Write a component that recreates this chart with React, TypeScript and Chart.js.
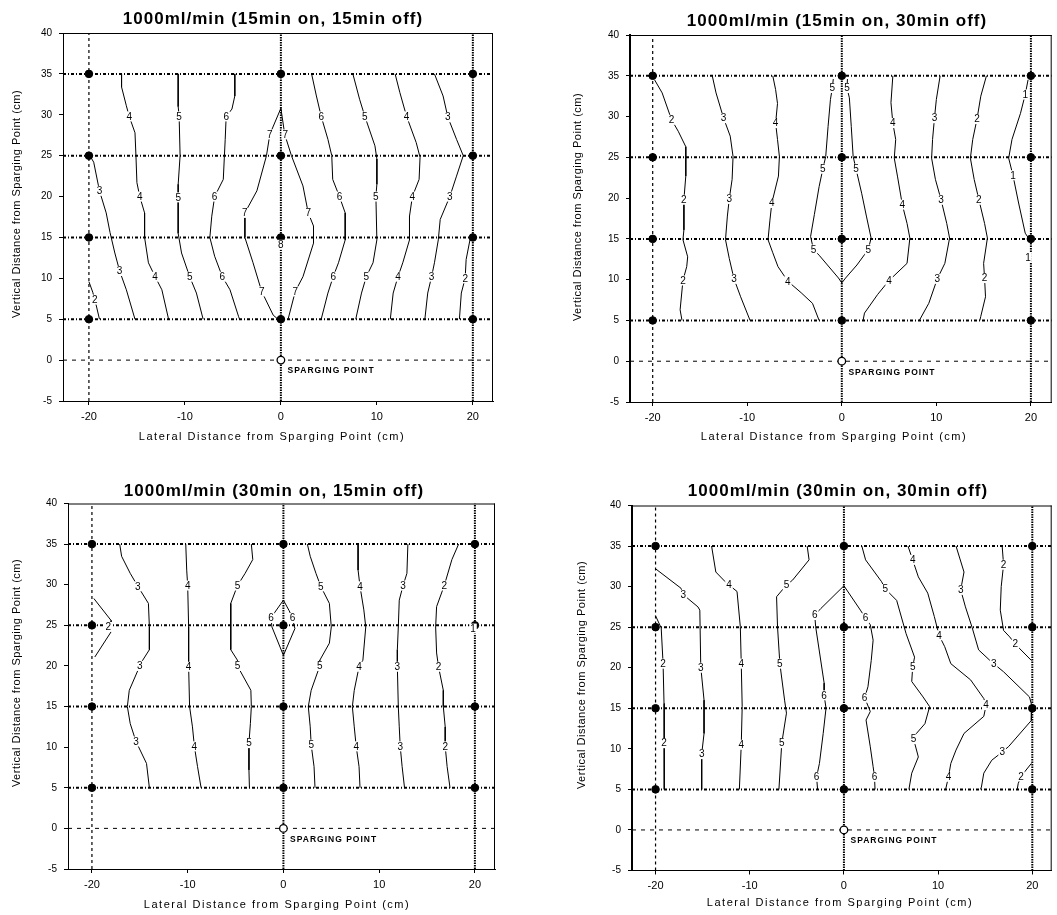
import React, { useEffect, useRef } from "react";
import { Chart, registerables } from "chart.js";

Chart.register(...registerables);
Chart.defaults.font.family = '"Liberation Sans", Arial, sans-serif';
Chart.defaults.color = "#000";

type Pt = [number, number];
type Lab = [number, number, string];

// ---------- shared axis / reference data ----------
const X_TICKS = [-20, -10, 0, 10, 20];
const Y_TICKS = [-5, 0, 5, 10, 15, 20, 25, 30, 35, 40];
const Y_MIN = -5;
const Y_MAX = 40;
const SAMPLE_X = [-20, 0, 20];
const SAMPLE_Y = [5, 15, 25, 35];
const SPARGE_PT: Pt = [0, 0];
const SPARGE_TEXT = "SPARGING POINT";
const SPARGE_TEXT_AT: Pt = [0.7, -1.35];
const ROW_LINES = [5, 15, 25, 35];
const BASE_ROW = [0];
const DASHED_COLS = [-20];
const DOTTED_COLS = [0, 20];
const X_TITLE = "Lateral Distance from Sparging Point (cm)";
const Y_TITLE = "Vertical Distance from Sparging Point (cm)";
const TITLES = [
  "1000ml/min (15min on, 15min off)",
  "1000ml/min (15min on, 30min off)",
  "1000ml/min (30min on, 15min off)",
  "1000ml/min (30min on, 30min off)",
];

// ---------- panel 1: 15 min on, 15 min off ----------
const P1_C2: Pt[] = [[-20, 9.6], [-19.6, 8.3], [-19.3, 7.0], [-18.9, 5]];
const P1_C3L: Pt[] = [[-20.1, 25.4], [-19.5, 24.2], [-18.9, 20.7], [-18.2, 18], [-17.8, 15.6], [-17.3, 13.1], [-16.8, 10.9], [-16.1, 8.6], [-15.2, 5]];
const P1_C4L: Pt[] = [[-16.6, 35], [-16.6, 33.4], [-16.1, 31.1], [-15.8, 29.8], [-15.2, 27.8], [-15.1, 25], [-15.0, 21.7], [-14.7, 20], [-14.2, 18], [-14.2, 15], [-13.8, 11.9], [-13.1, 10.2], [-12.4, 8.6], [-11.7, 5]];
const P1_C5L: Pt[] = [[-10.7, 35], [-10.7, 31], [-10.6, 29.8], [-10.5, 25], [-10.7, 21.5], [-10.7, 19.9], [-10.7, 15.5], [-10.35, 13.1], [-9.5, 10.2], [-8.8, 8.2], [-8.1, 5]];
const P1_C6L: Pt[] = [[-4.8, 35], [-4.8, 32.3], [-5.1, 30.7], [-5.7, 29.8], [-5.8, 27], [-5.9, 24.6], [-6.0, 22.1], [-6.9, 20], [-7.2, 17.6], [-7.4, 15], [-6.9, 12.7], [-6.1, 10.2], [-5.3, 8.6], [-4.4, 5.3], [-4.3, 5]];
const P1_C7L: Pt[] = [[0, 30.8], [-1.15, 27.6], [-1.5, 25], [-2.5, 20.7], [-3.75, 18], [-3.75, 15], [-2.9, 11.9], [-2.0, 8.4], [-0.8, 5.5], [-0.3, 5]];
const P1_C7R: Pt[] = [[0, 30.8], [0.4, 27.6], [1.1, 25], [2.3, 21.3], [2.85, 18], [3.4, 16.4], [3.4, 14.3], [2.3, 10.2], [1.5, 8.4], [0.75, 5]];
const P1_C6R: Pt[] = [[3.2, 35], [3.7, 32.3], [4.2, 29.8], [4.9, 27], [5.3, 25], [5.4, 22.1], [6.1, 20], [6.7, 18], [6.7, 14.7], [6.0, 11.9], [5.45, 10.2], [4.9, 8.2], [4.2, 5]];
const P1_C5R: Pt[] = [[7.5, 35], [8.2, 31.9], [8.75, 29.8], [9.8, 26.2], [10.0, 24.6], [10.0, 21.5], [9.9, 20], [10.0, 14.7], [9.6, 11.9], [8.9, 10.2], [8.4, 8.2], [7.8, 5]];
const P1_C4R: Pt[] = [[11.9, 35], [12.4, 32.7], [13.1, 29.8], [14.1, 26.6], [14.5, 24.8], [14.4, 22.1], [13.7, 20], [13.4, 17.6], [13.4, 14.7], [12.7, 11.9], [12.2, 10.2], [11.7, 8.2], [11.4, 5]];
const P1_C3R: Pt[] = [[16.0, 35], [16.9, 32.3], [17.4, 29.7], [18.3, 27], [19.0, 25], [18.3, 22.5], [17.6, 20], [16.6, 17.2], [16.4, 14.7], [16.0, 11.9], [15.7, 10.2], [15.3, 8.2], [15.0, 5]];
const P1_C2R: Pt[] = [[19.7, 14.7], [19.3, 12.3], [19.2, 10.0], [18.8, 8.2], [18.6, 5]];
const P1_LABELS: Lab[] = [
  [-19.4, 7.4, "2"],
  [-18.9, 20.7, "3"], [-16.8, 10.9, "3"],
  [-15.8, 29.8, "4"], [-14.7, 20, "4"], [-13.1, 10.2, "4"],
  [-10.6, 29.8, "5"], [-10.7, 19.9, "5"], [-9.5, 10.2, "5"],
  [-5.7, 29.8, "6"], [-6.9, 20, "6"], [-6.1, 10.2, "6"],
  [-1.15, 27.6, "7"], [0.45, 27.6, "7"], [-3.75, 18, "7"], [2.85, 18, "7"], [-2.0, 8.4, "7"], [1.5, 8.4, "7"],
  [0, 14.1, "8"],
  [4.2, 29.8, "6"], [6.1, 20, "6"], [5.45, 10.2, "6"],
  [8.75, 29.8, "5"], [9.9, 20, "5"], [8.9, 10.2, "5"],
  [13.1, 29.8, "4"], [13.7, 20, "4"], [12.2, 10.2, "4"],
  [17.4, 29.7, "3"], [17.6, 20, "3"], [15.7, 10.2, "3"],
  [19.2, 10.0, "2"],
];

// ---------- panel 2: 15 min on, 30 min off ----------
const P2_C2L: Pt[] = [[-19.8, 34.5], [-19.0, 32.9], [-18.0, 29.6], [-17.3, 28.2], [-16.5, 26.3], [-16.5, 22.7], [-16.7, 19.8], [-16.7, 16.1], [-16.8, 14.9], [-16.3, 12.8], [-16.4, 11.6], [-16.8, 9.9], [-17.1, 6.3], [-16.9, 5]];
const P2_C3L: Pt[] = [[-13.7, 35], [-13.3, 32.9], [-12.5, 29.8], [-11.8, 27.6], [-11.5, 25.1], [-11.6, 22.3], [-11.9, 19.9], [-12.1, 17.8], [-12.3, 14.9], [-11.9, 12.6], [-11.4, 10.1], [-10.7, 7.9], [-9.7, 5]];
const P2_C4L: Pt[] = [[-7.3, 35], [-7.0, 33.3], [-6.8, 31.6], [-7.0, 29.2], [-6.8, 27.2], [-6.6, 25.1], [-6.7, 22.7], [-7.4, 19.4], [-7.6, 17.3], [-7.8, 14.9], [-7.3, 13.3], [-6.75, 11.6], [-5.7, 9.8], [-4.3, 8.4], [-3.1, 7.1], [-2.4, 5]];
const P2_C5: Pt[] = [[-0.9, 34.6], [-1.0, 33.5], [-1.2, 32.1], [-1.45, 28.8], [-1.7, 25.1], [-2.0, 23.6], [-2.4, 21.4], [-2.9, 18.0], [-3.3, 15.3], [-3.0, 13.7], [-2.4, 13.0], [-0.35, 10.2], [0, 9.6], [0.4, 10.2], [1.6, 11.8], [2.8, 13.7], [3.1, 15.1], [2.6, 17.8], [2.1, 20.6], [1.5, 23.6], [1.2, 25.1], [1.0, 28.8], [0.8, 32.3], [0.55, 33.5], [0.6, 34.6]];
const P2_C4R: Pt[] = [[5.4, 35], [5.2, 31.7], [5.4, 29.2], [5.7, 27.2], [5.55, 24.9], [5.9, 22.6], [6.4, 19.2], [6.9, 16.9], [7.2, 15.1], [6.9, 12.0], [5.0, 9.9], [3.8, 8.2], [2.4, 5.9], [2.25, 5]];
const P2_C3R: Pt[] = [[10.4, 35], [10.0, 32.1], [9.8, 29.8], [9.6, 27.2], [9.5, 24.9], [9.9, 22.3], [10.5, 19.8], [11.1, 16.9], [11.4, 15.1], [10.9, 12.0], [10.1, 10.1], [9.2, 7.1], [8.2, 5]];
const P2_C2R: Pt[] = [[15.3, 35], [14.7, 32.5], [14.3, 29.7], [13.85, 27.2], [13.6, 24.9], [14.0, 22.3], [14.5, 19.8], [15.1, 16.9], [15.4, 15.1], [15.0, 12.0], [15.1, 10.2], [15.2, 7.9], [14.7, 5.5], [14.6, 5]];
const P2_C1R: Pt[] = [[19.7, 34.5], [19.4, 32.7], [18.9, 30.4], [18.0, 27.2], [17.65, 24.9], [18.1, 22.8], [18.7, 19.4], [19.4, 15.7], [19.8, 15]];
const P2_LABELS: Lab[] = [
  [-18.0, 29.6, "2"], [-16.7, 19.8, "2"], [-16.8, 9.9, "2"],
  [-12.5, 29.8, "3"], [-11.9, 19.9, "3"], [-11.4, 10.1, "3"],
  [-7.0, 29.2, "4"], [-7.4, 19.4, "4"], [-5.7, 9.8, "4"],
  [-1.0, 33.5, "5"], [0.55, 33.5, "5"], [-2.0, 23.6, "5"], [1.5, 23.6, "5"], [-3.0, 13.7, "5"], [2.8, 13.7, "5"],
  [5.4, 29.2, "4"], [6.4, 19.2, "4"], [5.0, 9.9, "4"],
  [9.8, 29.8, "3"], [10.5, 19.8, "3"], [10.1, 10.1, "3"],
  [14.3, 29.7, "2"], [14.5, 19.8, "2"], [15.1, 10.2, "2"],
  [19.4, 32.7, "1"], [18.1, 22.8, "1"], [19.7, 12.7, "1"],
];

// ---------- panel 3: 30 min on, 15 min off ----------
const P3_C2L: Pt[] = [[-19.8, 28.3], [-18.0, 25.6], [-18.0, 24.2], [-19.7, 21.1]];
const P3_C3L: Pt[] = [[-17.1, 35], [-16.9, 33.5], [-16.0, 31.4], [-15.2, 29.8], [-14.1, 27.7], [-14.0, 24.8], [-14.0, 22.0], [-14.7, 20.7], [-15.0, 20], [-16.1, 17], [-16.3, 15], [-16.0, 12.9], [-15.4, 10.7], [-14.3, 8.0], [-14.0, 5]];
const P3_C4L: Pt[] = [[-10.2, 35], [-10.1, 31.8], [-10.0, 29.9], [-9.9, 24.8], [-9.9, 19.9], [-9.8, 15], [-9.5, 12.5], [-9.3, 10.1], [-8.97, 7.6], [-8.6, 5]];
const P3_C5L: Pt[] = [[-3.35, 35], [-3.2, 33.1], [-4.0, 31.4], [-4.8, 29.9], [-5.5, 27.7], [-5.5, 24.8], [-5.5, 22.0], [-4.8, 20.7], [-4.8, 20], [-3.4, 17], [-3.35, 15], [-3.45, 12.9], [-3.6, 10.5], [-3.6, 7.2], [-3.55, 5]];
const P3_C6: Pt[] = [[0, 28.1], [-0.9, 26.6], [-1.3, 25.9], [-1.2, 24.8], [0, 21.3], [1.2, 24.6], [0.95, 25.9], [0.6, 26.8], [0, 28.1]];
const P3_C5R: Pt[] = [[2.5, 35], [2.8, 33.5], [3.4, 31.4], [3.9, 29.8], [4.8, 27.7], [5.0, 24.8], [4.8, 22.8], [3.8, 20.7], [3.8, 20], [2.9, 17], [2.6, 15], [2.8, 12.5], [2.9, 10.3], [3.2, 7.6], [3.3, 5]];
const P3_C4R: Pt[] = [[7.8, 35], [7.8, 31.8], [8.0, 29.8], [8.4, 26.9], [8.6, 24.8], [8.3, 20.7], [7.9, 19.9], [7.4, 17], [7.2, 15], [7.4, 12.5], [7.6, 10.1], [7.9, 7.6], [8.0, 5]];
const P3_C3R: Pt[] = [[13.0, 35], [12.9, 31.4], [12.5, 29.9], [12.1, 28.1], [12.0, 24.8], [11.9, 22.0], [11.9, 19.9], [12.0, 15], [12.1, 12.5], [12.2, 10.1], [12.4, 7.6], [12.65, 5]];
const P3_C2R: Pt[] = [[18.3, 35], [17.6, 33.1], [16.8, 29.9], [16.0, 27.3], [15.9, 24.8], [16.0, 21.6], [16.2, 19.9], [16.7, 17], [16.7, 15], [16.9, 12.5], [16.9, 10.1], [17.1, 7.6], [17.4, 5]];
const P3_LABELS: Lab[] = [
  [-18.3, 24.8, "2"],
  [-15.2, 29.8, "3"], [-15.0, 20, "3"], [-15.4, 10.7, "3"],
  [-10.0, 29.9, "4"], [-9.9, 19.9, "4"], [-9.3, 10.1, "4"],
  [-4.8, 29.9, "5"], [-4.8, 20, "5"], [-3.6, 10.5, "5"],
  [-1.3, 25.9, "6"], [0.95, 25.9, "6"],
  [3.9, 29.8, "5"], [3.8, 20, "5"], [2.9, 10.3, "5"],
  [8.0, 29.8, "4"], [7.9, 19.9, "4"], [7.6, 10.1, "4"],
  [12.5, 29.9, "3"], [11.9, 19.9, "3"], [12.2, 10.1, "3"],
  [16.8, 29.9, "2"], [16.2, 19.9, "2"], [16.9, 10.1, "2"],
  [19.8, 24.6, "1"],
];

// ---------- panel 4: 30 min on, 30 min off ----------
const P4_C2L: Pt[] = [[-20, 26.4], [-19.4, 24.9], [-19.2, 20.5], [-19.1, 15.6], [-19.1, 10.7], [-19.05, 5]];
const P4_C3L: Pt[] = [[-20, 32.2], [-17.3, 29.8], [-17.05, 29.0], [-15.5, 27.5], [-15.3, 27.1], [-15.2, 20.1], [-14.85, 16.0], [-14.85, 11.9], [-15.1, 9.35], [-15.1, 5]];
const P4_C4L: Pt[] = [[-14.05, 35], [-13.6, 31.8], [-12.6, 30.6], [-12.2, 30.2], [-11.35, 29.4], [-11.0, 25.05], [-10.9, 20.5], [-10.8, 15.2], [-10.9, 10.5], [-11.1, 5]];
const P4_C5L: Pt[] = [[-3.9, 35], [-3.7, 33.3], [-5.45, 30.8], [-6.1, 30.2], [-7.15, 28.75], [-7.05, 25.05], [-6.8, 20.5], [-6.3, 16.0], [-6.1, 14.4], [-6.6, 10.7], [-6.9, 5]];
const P4_C6L: Pt[] = [[0, 30.1], [-2.45, 27.3], [-3.1, 26.5], [-3.0, 25.05], [-2.1, 18.1], [-2.1, 16.6], [-1.9, 15.0], [-2.2, 11.9], [-2.6, 8.2], [-2.9, 6.55], [-2.8, 5]];
const P4_C6R: Pt[] = [[0, 30.1], [1.75, 27.1], [2.3, 26.1], [2.8, 25.3], [3.1, 23.4], [2.9, 20.9], [2.55, 17.65], [2.2, 16.3], [2.8, 14.6], [2.35, 13.55], [2.8, 10.25], [3.1, 7.8], [3.25, 6.55], [3.3, 5]];
const P4_C5R: Pt[] = [[1.9, 35], [2.3, 33.3], [4.0, 30.6], [4.4, 29.7], [5.6, 28.3], [6.6, 24.2], [7.5, 21.3], [7.3, 20.1], [7.2, 18.3], [8.4, 16.4], [9.1, 15.2], [8.6, 13.1], [7.7, 11.9], [7.4, 11.2], [7.9, 9.0], [7.2, 7.0], [6.9, 5]];
const P4_C4R: Pt[] = [[6.8, 35], [7.3, 33.3], [7.9, 31.2], [8.9, 29.2], [9.6, 26.3], [10.1, 24.0], [10.7, 22.6], [11.35, 20.5], [13.45, 18.5], [14.85, 16.2], [15.1, 15.4], [14.85, 14.0], [12.75, 11.9], [11.9, 9.85], [11.35, 8.2], [11.1, 6.55], [10.8, 5]];
const P4_C3R: Pt[] = [[11.9, 35], [12.75, 31.8], [12.4, 29.6], [12.9, 27.5], [13.6, 25.0], [14.3, 22.2], [15.5, 20.9], [15.9, 20.5], [16.95, 19.5], [19.7, 16.4], [19.95, 15.3], [19.9, 13.5], [17.5, 10.3], [16.8, 9.6], [15.7, 8.6], [14.85, 7.0], [14.6, 5.3], [14.5, 5]];
const P4_C2R_TOP: Pt[] = [[16.8, 35], [16.95, 32.7], [16.7, 30.0], [16.6, 27.1], [16.95, 24.6], [17.6, 23.8], [18.2, 22.9], [19.9, 20.9]];
const P4_C2R_LOW: Pt[] = [[19.9, 8.2], [18.8, 6.6], [18.5, 5.7], [18.4, 5]];
const P4_LABELS: Lab[] = [
  [-19.2, 20.5, "2"], [-19.1, 10.7, "2"],
  [-17.05, 29.0, "3"], [-15.2, 20.0, "3"], [-15.1, 9.35, "3"],
  [-12.2, 30.2, "4"], [-10.9, 20.5, "4"], [-10.9, 10.5, "4"],
  [-6.1, 30.2, "5"], [-6.8, 20.5, "5"], [-6.6, 10.7, "5"],
  [-3.1, 26.5, "6"], [-2.1, 16.6, "6"], [-2.9, 6.55, "6"],
  [2.3, 26.1, "6"], [2.2, 16.3, "6"], [3.25, 6.55, "6"],
  [4.4, 29.7, "5"], [7.3, 20.1, "5"], [7.4, 11.2, "5"],
  [7.3, 33.3, "4"], [10.1, 24.0, "4"], [15.1, 15.4, "4"], [11.1, 6.55, "4"],
  [12.4, 29.6, "3"], [15.9, 20.5, "3"], [16.8, 9.6, "3"],
  [16.95, 32.7, "2"], [18.2, 22.9, "2"], [18.8, 6.6, "2"],
];

const CONTOURS: Pt[][][] = [
  [P1_C2, P1_C3L, P1_C4L, P1_C5L, P1_C6L, P1_C7L, P1_C7R, P1_C6R, P1_C5R, P1_C4R, P1_C3R, P1_C2R],
  [P2_C2L, P2_C3L, P2_C4L, P2_C5, P2_C4R, P2_C3R, P2_C2R, P2_C1R],
  [P3_C2L, P3_C3L, P3_C4L, P3_C5L, P3_C6, P3_C5R, P3_C4R, P3_C3R, P3_C2R],
  [P4_C2L, P4_C3L, P4_C4L, P4_C5L, P4_C6L, P4_C6R, P4_C5R, P4_C4R, P4_C3R, P4_C2R_TOP, P4_C2R_LOW],
];
const LABELS: Lab[][] = [P1_LABELS, P2_LABELS, P3_LABELS, P4_LABELS];

// ---------- layout (pixels) ----------
interface Frame {
  left: number; top: number; w: number; h: number;
  yAxisW: number; xAxisH: number; padTop: number; padRight: number;
  xMin: number; xMax: number; axisW: number;
  titleAt: Pt; xTitleAt: Pt; yTitleAt: Pt;
}
const FRAMES: Frame[] = [
  { left: 0, top: 0, w: 528, h: 455, yAxisW: 63, xAxisH: 54, padTop: 33, padRight: 35, xMin: -22.7, xMax: 22.1, axisW: 1, titleAt: [273, 19], xTitleAt: [272, 437], yTitleAt: [17, 204] },
  { left: 528, top: 0, w: 529, h: 455, yAxisW: 102, xAxisH: 53, padTop: 35, padRight: 0, xMin: -22.4, xMax: 22.2, axisW: 2, titleAt: [309, 21], xTitleAt: [306, 437], yTitleAt: [50, 207] },
  { left: 0, top: 455, w: 528, h: 460, yAxisW: 68, xAxisH: 46, padTop: 48.5, padRight: 33, xMin: -22.5, xMax: 22.1, axisW: 1, titleAt: [274, 36], xTitleAt: [277, 450], yTitleAt: [17, 218] },
  { left: 528, top: 455, w: 529, h: 460, yAxisW: 104, xAxisH: 44.5, padTop: 50.5, padRight: 0, xMin: -22.5, xMax: 22.06, axisW: 2, titleAt: [310, 36], xTitleAt: [312, 448], yTitleAt: [54, 220] },
];

const FONT = '"Liberation Sans", Arial, sans-serif';

const mkLine = (pts: Pt[], width: number, dash: number[], order: number) => ({
  data: pts.map(([x, y]) => ({ x, y })),
  showLine: true,
  borderColor: "#000",
  backgroundColor: "#000",
  borderWidth: width,
  borderDash: dash,
  pointRadius: 0,
  pointHoverRadius: 0,
  tension: 0,
  order,
});

function Panel({ idx }: { idx: number }) {
  const ref = useRef<HTMLCanvasElement>(null);
  const f = FRAMES[idx];
  useEffect(() => {
    const datasets: any[] = [];
    datasets.push({
      data: SAMPLE_X.flatMap((x) => SAMPLE_Y.map((y) => ({ x, y }))),
      pointRadius: 3.8,
      pointBackgroundColor: "#000",
      pointBorderColor: "#000",
      showLine: false,
      order: 0,
    });
    datasets.push({
      data: [{ x: SPARGE_PT[0], y: SPARGE_PT[1] }],
      pointRadius: 3.8,
      pointBackgroundColor: "#fff",
      pointBorderColor: "#000",
      pointBorderWidth: 1.3,
      showLine: false,
      order: 0,
    });
    CONTOURS[idx].forEach((c) => datasets.push(mkLine(c, 1, [], 2)));
    ROW_LINES.forEach((y) => datasets.push(mkLine([[f.xMin, y], [f.xMax, y]], 2, [3, 2, 1, 2], 3)));
    BASE_ROW.forEach((y) => datasets.push(mkLine([[f.xMin, y], [f.xMax, y]], 1, [4, 5], 3)));
    DASHED_COLS.forEach((x) => datasets.push(mkLine([[x, Y_MIN], [x, Y_MAX]], 1.2, [3, 3], 3)));
    DOTTED_COLS.forEach((x) => datasets.push(mkLine([[x, Y_MIN], [x, Y_MAX]], 2, [1.5, 1], 3)));

    const decor = {
      id: "decor" + idx,
      beforeDatasetsDraw(chart: any) {
        const { ctx, chartArea: a } = chart;
        ctx.save();
        ctx.strokeStyle = "#000";
        ctx.lineWidth = 1;
        ctx.beginPath();
        ctx.moveTo(a.left, a.top + 0.5);
        ctx.lineTo(a.right, a.top + 0.5);
        ctx.moveTo(a.right - 0.5, a.top);
        ctx.lineTo(a.right - 0.5, a.bottom);
        ctx.stroke();
        ctx.restore();
      },
      afterDatasetsDraw(chart: any) {
        const { ctx } = chart;
        const xs = chart.scales.x;
        const ys = chart.scales.y;
        ctx.save();
        ctx.font = "10px " + FONT;
        ctx.textAlign = "center";
        ctx.textBaseline = "middle";
        LABELS[idx].forEach(([x, y, t]) => {
          const px = xs.getPixelForValue(x);
          const py = ys.getPixelForValue(y);
          const w = ctx.measureText(t).width;
          ctx.fillStyle = "#fff";
          ctx.fillRect(px - w / 2 - 1, py - 5, w + 2, 10);
          ctx.fillStyle = "#000";
          ctx.fillText(t, px, py + 0.5);
        });
        // sparging point caption
        ctx.font = "bold 8.5px " + FONT;
        (ctx as any).letterSpacing = "1px";
        ctx.textAlign = "left";
        ctx.fillText(SPARGE_TEXT, xs.getPixelForValue(SPARGE_TEXT_AT[0]), ys.getPixelForValue(SPARGE_TEXT_AT[1]));
        ctx.restore();
      },
      afterDraw(chart: any) {
        const { ctx } = chart;
        ctx.save();
        ctx.fillStyle = "#000";
        ctx.textAlign = "center";
        ctx.textBaseline = "middle";
        ctx.font = "bold 17px " + FONT;
        (ctx as any).letterSpacing = "1px";
        ctx.fillText(TITLES[idx], f.titleAt[0], f.titleAt[1]);
        ctx.font = "11px " + FONT;
        (ctx as any).letterSpacing = "1.5px";
        ctx.fillText(X_TITLE, f.xTitleAt[0], f.xTitleAt[1]);
        (ctx as any).letterSpacing = "0.5px";
        ctx.translate(f.yTitleAt[0], f.yTitleAt[1]);
        ctx.rotate(-Math.PI / 2);
        ctx.fillText(Y_TITLE, 0, 0);
        ctx.restore();
      },
    };

    const chart = new Chart(ref.current!, {
      type: "scatter",
      data: { datasets },
      options: {
        responsive: false,
        animation: false,
        events: [],
        layout: { padding: { top: f.padTop, right: f.padRight, left: 0, bottom: 0 } },
        plugins: { legend: { display: false }, tooltip: { enabled: false }, title: { display: false } },
        scales: {
          x: {
            type: "linear",
            min: f.xMin,
            max: f.xMax,
            afterFit: (s: any) => { s.height = f.xAxisH; },
            afterBuildTicks: (s: any) => { s.ticks = X_TICKS.map((v) => ({ value: v })); },
            ticks: { autoSkip: false, maxRotation: 0, padding: 5, font: { size: 11 }, color: "#000" },
            grid: { drawOnChartArea: false, drawTicks: true, tickLength: 4, color: "#000" },
            border: { display: true, color: "#000", width: 1 },
          },
          y: {
            type: "linear",
            min: Y_MIN,
            max: Y_MAX,
            afterFit: (s: any) => { s.width = f.yAxisW; },
            afterBuildTicks: (s: any) => { s.ticks = Y_TICKS.map((v) => ({ value: v })); },
            ticks: { autoSkip: false, padding: 7, font: { size: 10 }, color: "#000" },
            grid: { drawOnChartArea: false, drawTicks: true, tickLength: 4, color: "#000" },
            border: { display: true, color: "#000", width: f.axisW },
          },
        },
      } as any,
      plugins: [decor],
    });
    return () => chart.destroy();
  }, []);
  return (
    <canvas
      ref={ref}
      width={f.w}
      height={f.h}
      style={{ position: "absolute", left: f.left, top: f.top, width: f.w, height: f.h }}
    />
  );
}

export default function App() {
  return (
    <div style={{ position: "absolute", left: 0, top: 0, width: 1057, height: 915, background: "#fff", overflow: "hidden" }}>
      {FRAMES.map((_, i) => (
        <Panel key={i} idx={i} />
      ))}
    </div>
  );
}
